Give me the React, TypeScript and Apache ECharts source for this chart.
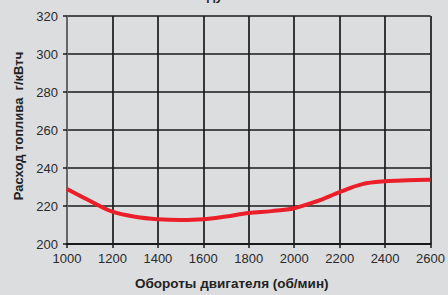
import React, { useEffect, useRef } from "react";
import * as echarts from "echarts";

const rpm = [1000, 1100, 1200, 1300, 1400, 1500, 1600, 1700, 1800, 1900, 2000, 2100, 2200, 2300, 2400, 2500, 2600];
const consumption = [229, 222.8, 217, 214.3, 213, 212.6, 213, 214.5, 216.3, 217.3, 218.8, 222.5, 227.3, 231.5, 233, 233.5, 233.8];
const xName = "Обороты двигателя (об/мин)";
const yName = "Расход топлива  г/кВтч";

export default function App() {
  const ref = useRef<HTMLDivElement>(null);
  useEffect(() => {
    if (!ref.current) return;
    const chart = echarts.init(ref.current, undefined, { renderer: "svg" });
    const font = "'Liberation Sans', Arial, sans-serif";
    chart.setOption({
      animation: false,
      backgroundColor: "#dcdddf",
      graphic: [
        {
          type: "text",
          left: 207,
          top: -11,
          style: { text: "ду", font: "bold 13px " + font, fill: "#222" },
        },
      ],
      grid: { left: 67, right: 12, top: 16, bottom: 47, containLabel: false },
      xAxis: {
        type: "value",
        min: 1000,
        max: 2600,
        interval: 200,
        name: xName,
        nameLocation: "middle",
        nameGap: 32,
        nameTextStyle: { fontFamily: font, fontSize: 13.5, fontWeight: "bold", color: "#222", padding: [0, 34, 0, 0] },
        axisLine: { show: true, lineStyle: { color: "#1a1a1a", width: 2 } },
        axisTick: { show: true, length: 4, lineStyle: { color: "#1a1a1a", width: 1.5 } },
        axisLabel: { fontFamily: font, fontSize: 13, color: "#2a2a2a", margin: 8, formatter: (v: number) => String(v) },
        splitLine: { show: true, lineStyle: { color: "#1a1a1a", width: 1.7 } },
      },
      yAxis: {
        type: "value",
        min: 200,
        max: 320,
        interval: 20,
        name: yName,
        nameLocation: "middle",
        nameGap: 38,
        nameTextStyle: { fontFamily: font, fontSize: 13, fontWeight: "bold", color: "#222", padding: [0, 0, 0, 8] },
        axisLine: { show: true, lineStyle: { color: "#666", width: 2 } },
        axisTick: { show: true, length: 4, lineStyle: { color: "#1a1a1a", width: 1.5 } },
        axisLabel: { fontFamily: font, fontSize: 13, color: "#2a2a2a", margin: 9, formatter: (v: number) => String(v) },
        splitLine: { show: true, lineStyle: { color: "#1a1a1a", width: 1.7 } },
      },
      series: [
        {
          type: "line",
          data: rpm.map((r, i) => [r, consumption[i]]),
          smooth: 0.35,
          showSymbol: false,
          lineStyle: { color: "#ea1f29", width: 4 },
          z: 5,
        },
      ],
    });
    return () => chart.dispose();
  }, []);
  return <div ref={ref} style={{ position: "absolute", left: 0, top: 0, width: 448, height: 295 }} />;
}
